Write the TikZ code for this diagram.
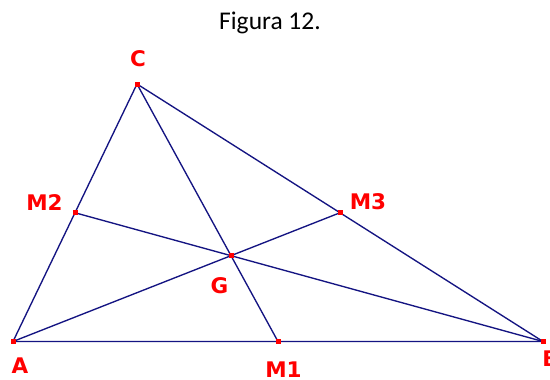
\documentclass[tikz,border=0pt]{standalone}
\usepackage{fontspec}
\usetikzlibrary{calc}
\setmainfont{Carlito}
\newfontfamily\lblfont{DejaVu Sans}
\definecolor{linecol}{RGB}{20,20,130}
\definecolor{ptred}{RGB}{255,0,0}
\tikzset{
  seg/.style={draw=linecol, line width=1.35pt},
  pt/.style={fill=ptred, draw=none, minimum size=5pt, inner sep=0pt, outer sep=0pt, rectangle},
  lbl/.style={text=ptred, font=\lblfont\bfseries\fontsize{21.5}{22}\selectfont, anchor=base, inner sep=0pt}
}
\begin{document}
\begin{tikzpicture}[x=1pt,y=-1pt]
\clip (0,0) rectangle (550,380);
\fill[white] (0,0) rectangle (550,380);
\node[anchor=base, inner sep=0pt, font=\fontsize{25.5}{26}\selectfont] (title) at (270,29) {Figura 12.};
\coordinate (A) at (13,341.5);
\coordinate (B) at (543,341.5);
\coordinate (C) at (137,84);
\coordinate (M1) at ($(A)!0.5!(B)$);
\coordinate (M2) at ($(A)!0.5!(C)$);
\coordinate (M3) at ($(B)!0.5!(C)$);
\coordinate (G) at ($(A)!0.6667!(M3)$);
\path[seg] (A) -- (B) -- (C) -- cycle;
\path[seg] (A) -- (M3);
\path[seg] (B) -- (M2);
\path[seg] (C) -- (M1);
\foreach \p in {A,B,C,M1,M2,M3,G} { \node[pt] (d\p) at (\p) {}; }
\node[lbl] (lC) at (138,66.7) {C};
\node[lbl] (lA) at (20,373) {A};
\node[lbl] (lB) at (550.5,366.7) {B};
\node[lbl] (lM1) at (283.5,377) {M1};
\node[lbl] (lM2) at (44.5,210) {M2};
\node[lbl] (lM3) at (368,209) {M3};
\node[lbl] (lG) at (219.5,293) {G};
\end{tikzpicture}
\end{document}
